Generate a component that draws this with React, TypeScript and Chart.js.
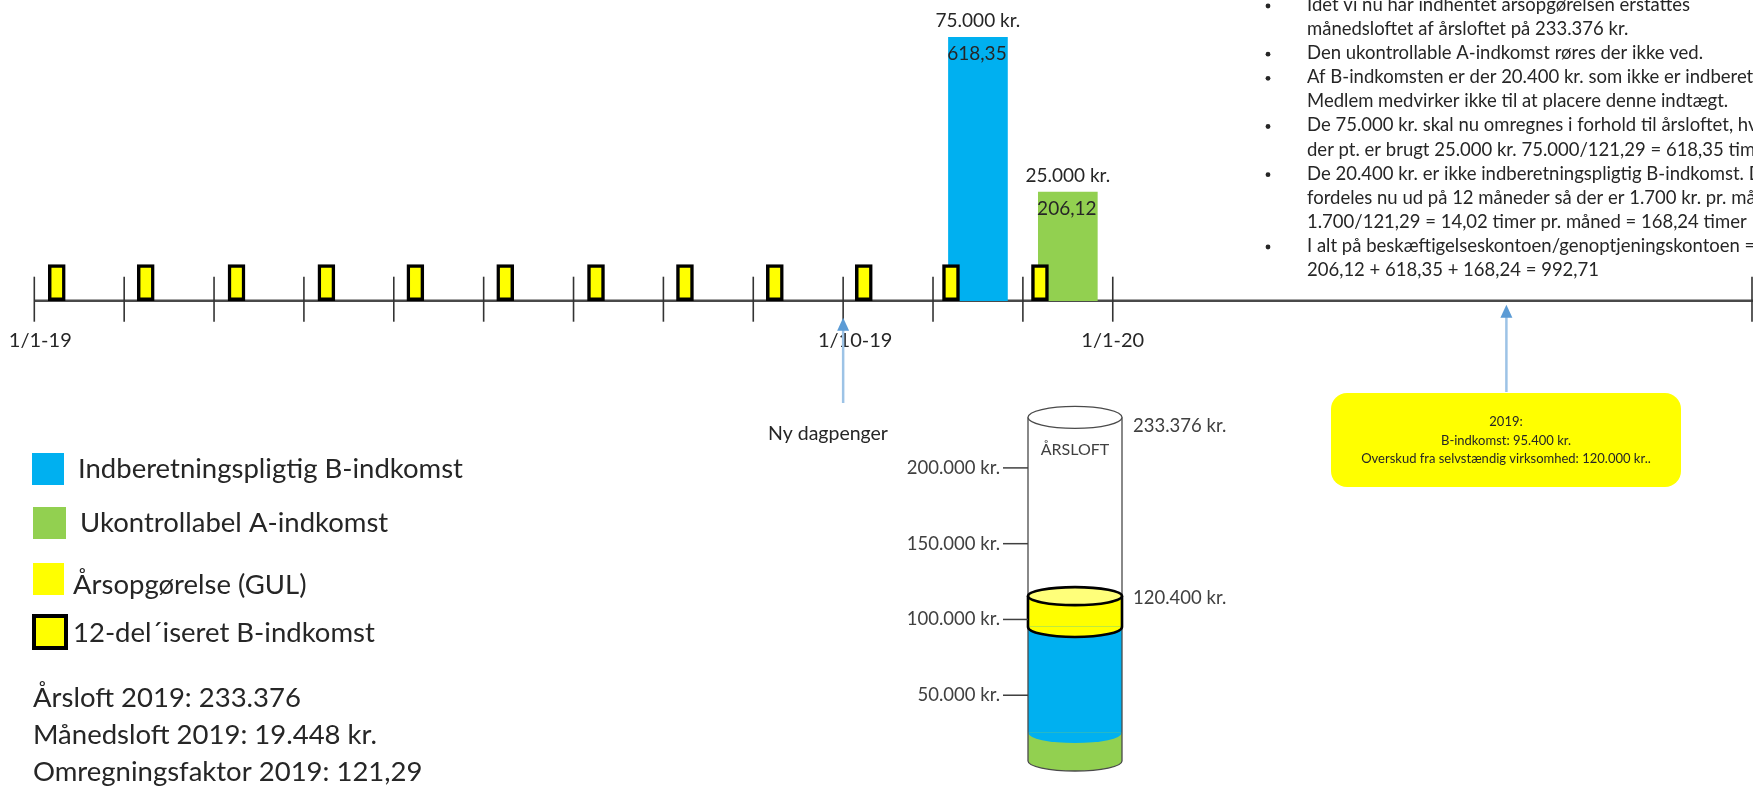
import React, { useEffect, useRef } from "react";
import { Chart, registerables } from "chart.js";
Chart.register(...registerables);

// ---------------- timeline data ----------------
const monthTicks = [0, 1, 2, 3, 4, 5, 6, 7, 8, 9, 10, 11, 12];
const tickLabels = ["1/1-19", "1/10-19", "1/1-20"];
const tickLabelMonths = [0, 9, 12];
const tickLabelShiftPx = [6, 12, 0];
const monthlyBoxMonths = [0.25, 1.24, 2.25, 3.25, 4.24, 5.24, 6.25, 7.24, 8.24, 9.23, 10.2, 11.19];
const monthlyBoxValue = 10250; // height as drawn (boxes are not to scale)
const barMonths = [10.5, 11.5];
const barValues = [75000, 30900]; // heights as drawn in the picture
const barColors = ["#00B0F0", "#92D050"];
const barTopLabels = ["75.000 kr.", "25.000 kr."];
const barInnerLabels = ["618,35", "206,12"];
const arrowMonths = [9, 16.38];

// ---------------- cylinder data ----------------
const cylinderSegments = ["Ukontrollabel A-indkomst", "Indberetningspligtig B-indkomst", "Årsopgørelse (GUL)", "Resterende årsloft"];
const cylinderValues = [25000, 70000, 20400, 117976];
const cylinderColors = ["#92D050", "#00B0F0", "#FFFF00", "#FFFFFF"];
const cylinderTicks = [50000, 100000, 150000, 200000];
const cylinderTickLabels = ["50.000 kr.", "100.000 kr.", "150.000 kr.", "200.000 kr."];
const cylinderMarks = [233376, 120400];
const cylinderMarkLabels = ["233.376 kr.", "120.400 kr."];

// ---------------- texts ----------------
const noteLines = [
  "Idet vi nu har indhentet årsopgørelsen erstattes",
  "månedsloftet af årsloftet på 233.376 kr.",
  "Den ukontrollable A-indkomst røres der ikke ved.",
  "Af B-indkomsten er der 20.400 kr. som ikke er indberetningspligtig.",
  "Medlem medvirker ikke til at placere denne indtægt.",
  "De 75.000 kr. skal nu omregnes i forhold til årsloftet, hvor",
  "der pt. er brugt 25.000 kr. 75.000/121,29 = 618,35 timer",
  "De 20.400 kr. er ikke indberetningspligtig B-indkomst. De",
  "fordeles nu ud på 12 måneder så der er 1.700 kr. pr. måned.",
  "1.700/121,29 = 14,02 timer pr. måned = 168,24 timer",
  "I alt på beskæftigelseskontoen/genoptjeningskontoen =",
  "206,12 + 618,35 + 168,24 = 992,71",
];
const noteBullets = [true, false, true, true, false, true, false, true, false, false, true, false];
const legendLabels = ["Indberetningspligtig B-indkomst", "Ukontrollabel A-indkomst", "Årsopgørelse (GUL)", "12-del´iseret B-indkomst"];
const statLines = ["Årsloft 2019: 233.376", "Månedsloft 2019: 19.448 kr.", "Omregningsfaktor 2019: 121,29"];
const calloutLines = ["2019:", "B-indkomst: 95.400 kr.", "Overskud fra selvstændig virksomhed: 120.000 kr.."];
const arrowCaption = "Ny dagpenger";

const FONT = "Lato";
const TXT = "#262626";

const X_MIN = -0.3817;
const X_MAX = 19.124;
const PX_PER_KR = 263.4 / 75000;
const Y_MAX = 300.7 / PX_PER_KR;
const Y_MIN = -(787 - 300.7) / PX_PER_KR;

function drawArrow(ctx: CanvasRenderingContext2D, x: number, yFrom: number, yTip: number) {
  ctx.save();
  ctx.strokeStyle = "#9DC3E6";
  ctx.lineWidth = 2.5;
  ctx.beginPath();
  ctx.moveTo(x, yFrom);
  ctx.lineTo(x, yTip + 10);
  ctx.stroke();
  ctx.fillStyle = "#5B9BD5";
  ctx.beginPath();
  ctx.moveTo(x, yTip);
  ctx.lineTo(x - 6, yTip + 13);
  ctx.lineTo(x + 6, yTip + 13);
  ctx.closePath();
  ctx.fill();
  ctx.restore();
}

const timelinePlugin = {
  id: "timelineDecor",
  beforeDatasetsDraw(chart: any) {
    const ctx: CanvasRenderingContext2D = chart.ctx;
    const xs = chart.scales.x;
    const ys = chart.scales.y;
    const axisY = ys.getPixelForValue(0);
    ctx.save();
    ctx.strokeStyle = "#4a4a4a";
    ctx.lineWidth = 2.5;
    ctx.beginPath();
    ctx.moveTo(xs.getPixelForValue(0), axisY);
    ctx.lineTo(chart.chartArea.right, axisY);
    ctx.stroke();
    ctx.lineWidth = 1.6;
    ctx.strokeStyle = "#333";
    const tickXs = monthTicks.map((m) => xs.getPixelForValue(m));
    tickXs.push(chart.chartArea.right - 1);
    tickXs.forEach((tx) => {
      ctx.beginPath();
      ctx.moveTo(tx, axisY - 24);
      ctx.lineTo(tx, axisY + 21);
      ctx.stroke();
    });
    ctx.fillStyle = TXT;
    ctx.font = `20px ${FONT}`;
    ctx.textAlign = "center";
    ctx.textBaseline = "middle";
    tickLabels.forEach((t, i) => {
      ctx.fillText(t, xs.getPixelForValue(tickLabelMonths[i]) + tickLabelShiftPx[i], axisY + 40);
    });
    ctx.restore();
  },
  afterDatasetsDraw(chart: any) {
    const ctx: CanvasRenderingContext2D = chart.ctx;
    const xs = chart.scales.x;
    const ys = chart.scales.y;
    const axisY = ys.getPixelForValue(0);
    const meta = chart.getDatasetMeta(1);
    ctx.save();
    ctx.fillStyle = TXT;
    ctx.textAlign = "center";
    ctx.textBaseline = "middle";
    ctx.font = `19px ${FONT}`;
    meta.data.forEach((el: any, i: number) => {
      ctx.fillText(barTopLabels[i], el.x, el.y - 16);
      ctx.fillText(barInnerLabels[i], el.x - 1, el.y + 17);
    });

    // arrows
    drawArrow(ctx, xs.getPixelForValue(arrowMonths[0]), 403, axisY + 17);
    drawArrow(ctx, xs.getPixelForValue(arrowMonths[1]), 392, axisY + 4);

    // caption under first arrow (clipped like the original text box)
    ctx.save();
    ctx.beginPath();
    ctx.rect(700, 400, 189, 60);
    ctx.clip();
    ctx.textAlign = "left";
    ctx.font = `19.5px ${FONT}`;
    ctx.fillText(arrowCaption, 768, 434);
    ctx.restore();

    // callout
    ctx.fillStyle = "#FFFF00";
    ctx.beginPath();
    (ctx as any).roundRect(1331, 393, 350, 94, 16);
    ctx.fill();
    ctx.fillStyle = TXT;
    ctx.font = `13px ${FONT}`;
    ctx.textAlign = "center";
    calloutLines.forEach((l, i) => ctx.fillText(l, 1506, 422 + i * 18.5));

    // notes
    ctx.textAlign = "left";
    ctx.font = `18.5px ${FONT}`;
    noteLines.forEach((l, i) => {
      const y = 5 + i * 24.1;
      if (noteBullets[i]) {
        ctx.beginPath();
        ctx.arc(1268, y + 1, 2.4, 0, Math.PI * 2);
        ctx.fill();
      }
      ctx.fillText(l, 1307, y);
    });

    // legend
    const sq = [
      { x: 32, y: 453, w: 32, h: 32, c: "#00B0F0", b: 0 },
      { x: 33, y: 507, w: 33, h: 32, c: "#92D050", b: 0 },
      { x: 33, y: 563, w: 31, h: 32, c: "#FFFF00", b: 0 },
      { x: 32, y: 614, w: 36, h: 36, c: "#FFFF00", b: 4 },
    ];
    const lx = [78, 80, 73, 73];
    const ly = [469, 523, 585, 633];
    sq.forEach((s, i) => {
      if (s.b) {
        ctx.fillStyle = "#000";
        ctx.fillRect(s.x, s.y, s.w, s.h);
        ctx.fillStyle = s.c;
        ctx.fillRect(s.x + s.b, s.y + s.b, s.w - 2 * s.b, s.h - 2 * s.b);
      } else {
        ctx.fillStyle = s.c;
        ctx.fillRect(s.x, s.y, s.w, s.h);
      }
      ctx.fillStyle = TXT;
      ctx.font = `27.5px ${FONT}`;
      ctx.fillText(legendLabels[i], lx[i], ly[i]);
    });
    statLines.forEach((l, i) => ctx.fillText(l, 33, 698 + i * 37));
    ctx.restore();
  },
};

const cylinderPlugin = {
  id: "cylinderDecor",
  beforeDatasetsDraw(chart: any) {
    const ctx: CanvasRenderingContext2D = chart.ctx;
    const ys = chart.scales.y;
    const el = chart.getDatasetMeta(0).data[0];
    const cx = el.x;
    const rx = 47, ry = 10;
    const topY = ys.getPixelForValue(cylinderMarks[0]);
    const baseY = ys.getPixelForValue(0);
    ctx.save();
    ctx.beginPath();
    ctx.moveTo(cx - rx, topY);
    ctx.lineTo(cx - rx, baseY - ry);
    ctx.ellipse(cx, baseY - ry, rx, ry, 0, Math.PI, 0, true);
    ctx.lineTo(cx + rx, topY);
    ctx.closePath();
    ctx.clip();
  },
  afterDatasetsDraw(chart: any) {
    const ctx: CanvasRenderingContext2D = chart.ctx;
    ctx.restore();
    const ys = chart.scales.y;
    const el = chart.getDatasetMeta(0).data[0];
    const cx = el.x;
    const rx = 47, ry = 10;
    const topY = ys.getPixelForValue(cylinderMarks[0]);
    const baseY = ys.getPixelForValue(0);
    let acc = 0;
    const levels = cylinderValues.map((v) => (acc += v));
    const gY = ys.getPixelForValue(levels[0]);
    const bY = ys.getPixelForValue(levels[1]);
    const yY = ys.getPixelForValue(levels[2]);
    ctx.save();
    // blue front edge over green
    ctx.fillStyle = cylinderColors[1];
    ctx.beginPath();
    ctx.ellipse(cx, gY, rx - 0.5, ry, 0, 0, Math.PI);
    ctx.fill();
    // outline of cylinder
    ctx.strokeStyle = "#4a4a4a";
    ctx.lineWidth = 1.3;
    ctx.beginPath();
    ctx.moveTo(cx - rx, topY);
    ctx.lineTo(cx - rx, baseY - ry);
    ctx.ellipse(cx, baseY - ry, rx, ry, 0, Math.PI, 0, true);
    ctx.lineTo(cx + rx, topY);
    ctx.stroke();
    ctx.fillStyle = "#fff";
    ctx.beginPath();
    ctx.ellipse(cx, topY, rx, ry + 1, 0, 0, Math.PI * 2);
    ctx.fill();
    ctx.stroke();
    // yellow band
    ctx.fillStyle = cylinderColors[2];
    ctx.beginPath();
    ctx.ellipse(cx, bY, rx, ry, 0, 0, Math.PI);
    ctx.fill();
    ctx.strokeStyle = "#000";
    ctx.lineWidth = 2.6;
    ctx.beginPath();
    ctx.ellipse(cx, bY, rx, ry, 0, 0, Math.PI);
    ctx.stroke();
    ctx.beginPath();
    ctx.moveTo(cx - rx, yY);
    ctx.lineTo(cx - rx, bY);
    ctx.moveTo(cx + rx, yY);
    ctx.lineTo(cx + rx, bY);
    ctx.stroke();
    ctx.fillStyle = "#FFFF7A";
    ctx.beginPath();
    ctx.ellipse(cx, yY, rx, ry - 1, 0, 0, Math.PI * 2);
    ctx.fill();
    ctx.stroke();
    // title
    ctx.fillStyle = "#404040";
    ctx.font = `16px ${FONT}`;
    ctx.textAlign = "center";
    ctx.textBaseline = "middle";
    ctx.fillText("ÅRSLOFT", cx, topY + 33);
    // ticks
    ctx.strokeStyle = "#404040";
    ctx.lineWidth = 1.5;
    ctx.font = `18.5px ${FONT}`;
    ctx.textAlign = "right";
    cylinderTicks.forEach((v, i) => {
      const py = ys.getPixelForValue(v);
      ctx.beginPath();
      ctx.moveTo(cx - rx - 25, py);
      ctx.lineTo(cx - rx, py);
      ctx.stroke();
      ctx.fillText(cylinderTickLabels[i], cx - rx - 28, py);
    });
    ctx.textAlign = "left";
    cylinderMarks.forEach((v, i) => {
      ctx.fillText(cylinderMarkLabels[i], cx + rx + 11, ys.getPixelForValue(v) + 9);
    });
    ctx.restore();
  },
};

export default function App() {
  const tlRef = useRef<HTMLCanvasElement>(null);
  const cyRef = useRef<HTMLCanvasElement>(null);
  useEffect(() => {
    const c1 = new Chart(tlRef.current as HTMLCanvasElement, {
      type: "bar",
      data: {
        datasets: [
          {
            label: legendLabels[3],
            data: monthlyBoxMonths.map((m) => ({ x: m, y: monthlyBoxValue })),
            backgroundColor: "#FFFF00",
            borderColor: "#000",
            borderWidth: 3.5,
            borderSkipped: false,
            barThickness: 17,
            grouped: false,
          } as any,
          {
            label: "B/A-indkomst",
            data: barMonths.map((m, i) => ({ x: m, y: barValues[i] })),
            backgroundColor: barColors,
            borderWidth: 0,
            barThickness: 59,
            grouped: false,
          } as any,
        ],
      },
      options: {
        responsive: false,
        animation: false,
        devicePixelRatio: 1,
        events: [],
        layout: { padding: 0 },
        plugins: { legend: { display: false }, tooltip: { enabled: false } },
        scales: {
          x: { type: "linear", min: X_MIN, max: X_MAX, offset: false, display: false },
          y: { type: "linear", min: Y_MIN, max: Y_MAX, display: false },
        },
      } as any,
      plugins: [timelinePlugin as any],
    });
    const c2 = new Chart(cyRef.current as HTMLCanvasElement, {
      type: "bar",
      data: {
        labels: ["Årsloft"],
        datasets: cylinderValues.map((v, i) => ({
          label: cylinderSegments[i],
          data: [v],
          backgroundColor: cylinderColors[i],
          borderWidth: 0,
          barThickness: 94,
          stack: "s",
        })),
      },
      options: {
        responsive: false,
        animation: false,
        devicePixelRatio: 1,
        events: [],
        layout: { padding: { left: 10, right: 0, top: 0, bottom: 16 } },
        plugins: { legend: { display: false }, tooltip: { enabled: false } },
        scales: {
          x: { stacked: true, display: false },
          y: { stacked: true, display: false, min: 0, max: 258000 },
        },
      } as any,
      plugins: [cylinderPlugin as any],
    });
    return () => {
      c1.destroy();
      c2.destroy();
    };
  }, []);
  return (
    <div style={{ position: "absolute", left: 0, top: 0, width: 1753, height: 787, overflow: "hidden", background: "#fff" }}>
      <canvas ref={tlRef} width={1753} height={787} style={{ position: "absolute", left: 0, top: 0 }} />
      <canvas ref={cyRef} width={380} height={407} style={{ position: "absolute", left: 880, top: 380 }} />
    </div>
  );
}
